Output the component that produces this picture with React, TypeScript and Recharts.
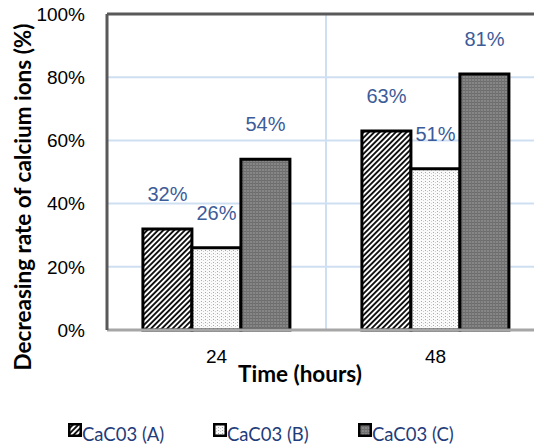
import React from 'react';
import { BarChart, Bar, XAxis, YAxis, CartesianGrid, Legend, LabelList, ReferenceLine } from 'recharts';

const hours = ['24', '48'];
const caA = [32, 63];
const caB = [26, 51];
const caC = [54, 81];
const yTicks = [0, 20, 40, 60, 80, 100];
const seriesNames = ['CaC03 (A)', 'CaC03 (B)', 'CaC03 (C)'];
const seriesKeys = ['a', 'b', 'c'];
const patternIds = ['hatchA', 'dotsB', 'gridC'];

const data = hours.map((h, i) => ({ hour: h, a: caA[i], b: caB[i], c: caC[i] }));

const W = 552;
const H = 448;

const renderPct = (props: any) => {
  const { x, y, width, value } = props;
  return (
    <text x={x + width / 2} y={y - 35} textAnchor="middle" dominantBaseline="central"
      fontSize={20} fontFamily="Liberation Sans, Arial" fill="#3C5C99">
      {value}%
    </text>
  );
};

const renderLegend = () => (
  <div style={{ display: 'flex', paddingLeft: 68, fontFamily: 'Lato, sans-serif', fontSize: 18.5, color: '#1F3D7A' }}>
    {seriesNames.map((n, i) => (
      <div key={n} style={{ display: 'flex', alignItems: 'flex-start', width: 145 }}>
        <svg width={14} height={14} style={{ marginTop: 3 }}>
          <rect width={14} height={14} fill="#000" />
          <rect x={2.5} y={2.5} width={9} height={9} fill={`url(#${patternIds[i]})`} />
        </svg>
        <span style={{ marginTop: 4, lineHeight: '20px' }}>{n}</span>
      </div>
    ))}
  </div>
);

export default function App() {
  return (
    <div style={{ position: 'relative', marginLeft: -8, marginTop: -8, width: W, height: H, background: '#fff' }}>
      <BarChart width={W} height={H} data={data} margin={{ top: 14, right: 7, left: 0, bottom: 58 }}
        barCategoryGap="16.4%" barGap={0}>
        <defs>
          <pattern id="hatchA" patternUnits="userSpaceOnUse" width={3.8} height={3.8} patternTransform="rotate(45)">
            <rect width={3.8} height={3.8} fill="#fff" />
            <rect width={1.9} height={3.8} fill="#111" />
          </pattern>
          <pattern id="dotsB" patternUnits="userSpaceOnUse" width={4} height={3}>
            <rect width={4} height={3} fill="#fafafa" />
            <rect x={1} y={1} width={1} height={1} fill="#a8a8a8" />
            <rect x={3} y={2} width={1} height={1} fill="#d0d0d0" />
          </pattern>
          <pattern id="gridC" patternUnits="userSpaceOnUse" width={3} height={3}>
            <rect width={3} height={3} fill="#868686" />
            <rect width={3} height={1} fill="#6c6c6c" />
            <rect width={1} height={3} fill="#727272" />
          </pattern>
        </defs>
        <CartesianGrid stroke="#CFDFF2" strokeWidth={2}
          verticalCoordinatesGenerator={({ offset }: any) => [offset.left + offset.width / 2]} />
        <XAxis dataKey="hour" axisLine={{ stroke: '#A6A6A6', strokeWidth: 3 }} tickLine={false}
          tickSize={6} tickMargin={14} height={60} interval={0}
          tick={{ fontSize: 19, fill: '#000', fontFamily: 'Liberation Sans, Arial' }}
          label={{
            content: ({ viewBox }: any) => (
              <text x={viewBox.x + viewBox.width / 2 - 26} y={viewBox.y + 43} textAnchor="middle"
                dominantBaseline="central" fontSize={22.5} fontWeight="bold" fontFamily="Lato, sans-serif" fill="#000">
                Time (hours)
              </text>
            ),
          }} />
        <YAxis domain={[0, 100]} ticks={yTicks} tickFormatter={(v) => `${v}%`} width={107}
          axisLine={{ stroke: '#595959', strokeWidth: 3 }} tickLine={false} tickSize={6} tickMargin={16}
          tick={{ fontSize: 19, fill: '#000', fontFamily: 'Liberation Sans, Arial' }}
          label={{
            content: ({ viewBox }: any) => (
              <text transform={`translate(22, ${viewBox.y + viewBox.height / 2 + 25}) rotate(-90)`}
                textAnchor="middle" dominantBaseline="central" fontSize={22.5} fontWeight="bold"
                fontFamily="Lato, sans-serif" fill="#000">
                Decreasing rate of calcium ions (%)
              </text>
            ),
          }} />
        <ReferenceLine y={100} stroke="#595959" strokeWidth={3} />
        {seriesKeys.map((k, i) => (
          <Bar key={k} dataKey={k} name={seriesNames[i]} fill={`url(#${patternIds[i]})`}
            stroke="#000" strokeWidth={3} isAnimationActive={false}>
            <LabelList dataKey={k} content={renderPct} />
          </Bar>
        ))}
        <Legend verticalAlign="middle" align="center" layout="horizontal"
          wrapperStyle={{ top: 420, left: 0, width: W, height: 28 }} content={renderLegend} />
      </BarChart>
    </div>
  );
}
